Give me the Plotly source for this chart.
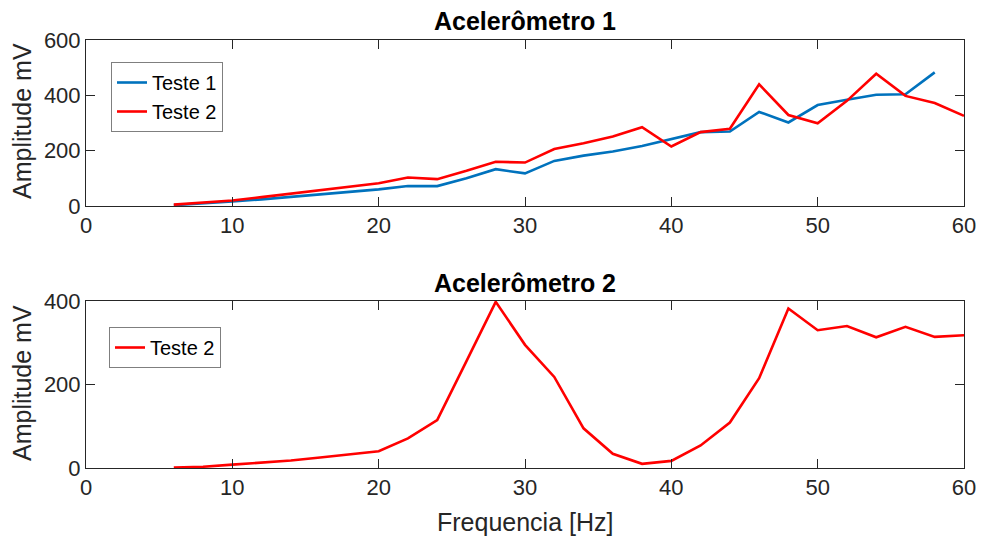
import plotly.graph_objects as go

freq = [6, 8, 10, 12, 14, 16, 18, 20, 22, 24, 26, 28, 30, 32, 34, 36, 38, 40,
        42, 44, 46, 48, 50, 52, 54, 56, 58, 60]
freq_t1 = freq[:-1]
acc1_teste1 = [3, 9, 16, 24, 33, 42, 51, 60, 72, 72, 100, 133, 118, 163, 182, 197,
               217, 241, 267, 269, 340, 302, 365, 384, 402, 404, 483]
acc1_teste2 = [5, 12, 20, 32, 44, 56, 69, 82, 103, 97, 127, 160, 157, 206, 227, 251,
               285, 215, 267, 279, 440, 329, 299, 380, 478, 398, 372, 326]
acc2_teste2 = [1, 3, 8, 13, 18, 25, 32, 40, 71, 115, 256, 398, 295, 218, 95, 34,
               10, 17, 54, 109, 215, 382, 330, 340, 313, 338, 314, 318]

W, H = 982, 541


def px(x):
    return x / W


def py(y):
    return 1 - y / H


FONT = "Liberation Sans, Arial, Helvetica, sans-serif"
AX = "#262626"
BLUE = "#0072BD"
RED = "#FF0000"

fig = go.Figure()
fig.add_trace(go.Scatter(x=freq_t1, y=acc1_teste1, mode="lines", name="Teste 1",
                         line=dict(color=BLUE, width=2.6), xaxis="x", yaxis="y",
                         legend="legend"))
fig.add_trace(go.Scatter(x=freq, y=acc1_teste2, mode="lines", name="Teste 2",
                         line=dict(color=RED, width=2.6), xaxis="x", yaxis="y",
                         legend="legend"))
fig.add_trace(go.Scatter(x=freq, y=acc2_teste2, mode="lines", name="Teste 2",
                         line=dict(color=RED, width=2.6), xaxis="x2", yaxis="y2",
                         legend="legend2"))

xdom = [px(86), px(964)]
top_dom = [py(206), py(40)]
bot_dom = [py(468), py(301)]

axis_common = dict(showline=True, linecolor=AX, linewidth=1, mirror="ticks",
                   ticks="inside", ticklen=9, tickcolor=AX, showgrid=False,
                   zeroline=False, automargin=False,
                   tickfont=dict(family=FONT, size=22, color=AX))

fig.update_layout(
    width=W, height=H,
    margin=dict(l=0, r=0, t=0, b=0, pad=0),
    paper_bgcolor="white", plot_bgcolor="white",
    font=dict(family=FONT, color="black"),
    xaxis=dict(domain=xdom, range=[0, 60], tickvals=[0, 10, 20, 30, 40, 50, 60],
               anchor="y", **axis_common),
    yaxis=dict(domain=top_dom, range=[0, 600], tickvals=[0, 200, 400, 600],
               anchor="x", **axis_common),
    xaxis2=dict(domain=xdom, range=[0, 60], tickvals=[0, 10, 20, 30, 40, 50, 60],
                anchor="y2", **axis_common),
    yaxis2=dict(domain=bot_dom, range=[0, 400], tickvals=[0, 200, 400],
                anchor="x2", **axis_common),
    legend=dict(x=px(111), y=py(62), xanchor="left", yanchor="top",
                bgcolor="white", bordercolor="#7f7f7f", borderwidth=1,
                font=dict(family=FONT, size=20, color="black"),
                itemwidth=30, tracegroupgap=0),
    legend2=dict(x=px(109), y=py(327), xanchor="left", yanchor="top",
                 bgcolor="white", bordercolor="#7f7f7f", borderwidth=1,
                 font=dict(family=FONT, size=20, color="black"),
                 itemwidth=30),
    showlegend=True,
)

annotations = [
    dict(text="<b>Acelerômetro 1</b>", x=px(525), y=py(21), xref="paper",
         yref="paper", showarrow=False, font=dict(family=FONT, size=25, color="black"),
         xanchor="center", yanchor="middle"),
    dict(text="<b>Acelerômetro 2</b>", x=px(525), y=py(283), xref="paper",
         yref="paper", showarrow=False, font=dict(family=FONT, size=25, color="black"),
         xanchor="center", yanchor="middle"),
    dict(text="Amplitude mV", x=px(22), y=py(121), xref="paper", yref="paper",
         showarrow=False, textangle=-90, font=dict(family=FONT, size=25, color=AX),
         xanchor="center", yanchor="middle"),
    dict(text="Amplitude mV", x=px(22), y=py(383), xref="paper", yref="paper",
         showarrow=False, textangle=-90, font=dict(family=FONT, size=25, color=AX),
         xanchor="center", yanchor="middle"),
    dict(text="Frequencia [Hz]", x=px(525), y=py(522), xref="paper", yref="paper",
         showarrow=False, font=dict(family=FONT, size=25, color=AX),
         xanchor="center", yanchor="middle"),
]
fig.update_layout(annotations=annotations)

# remove the default page margin so the 982x541 figure fills the window exactly
fig.write_html(
    "out.html",
    config={"displayModeBar": False},
    post_script="document.body.style.margin='0px';"
                "document.body.style.overflow='hidden';",
)
